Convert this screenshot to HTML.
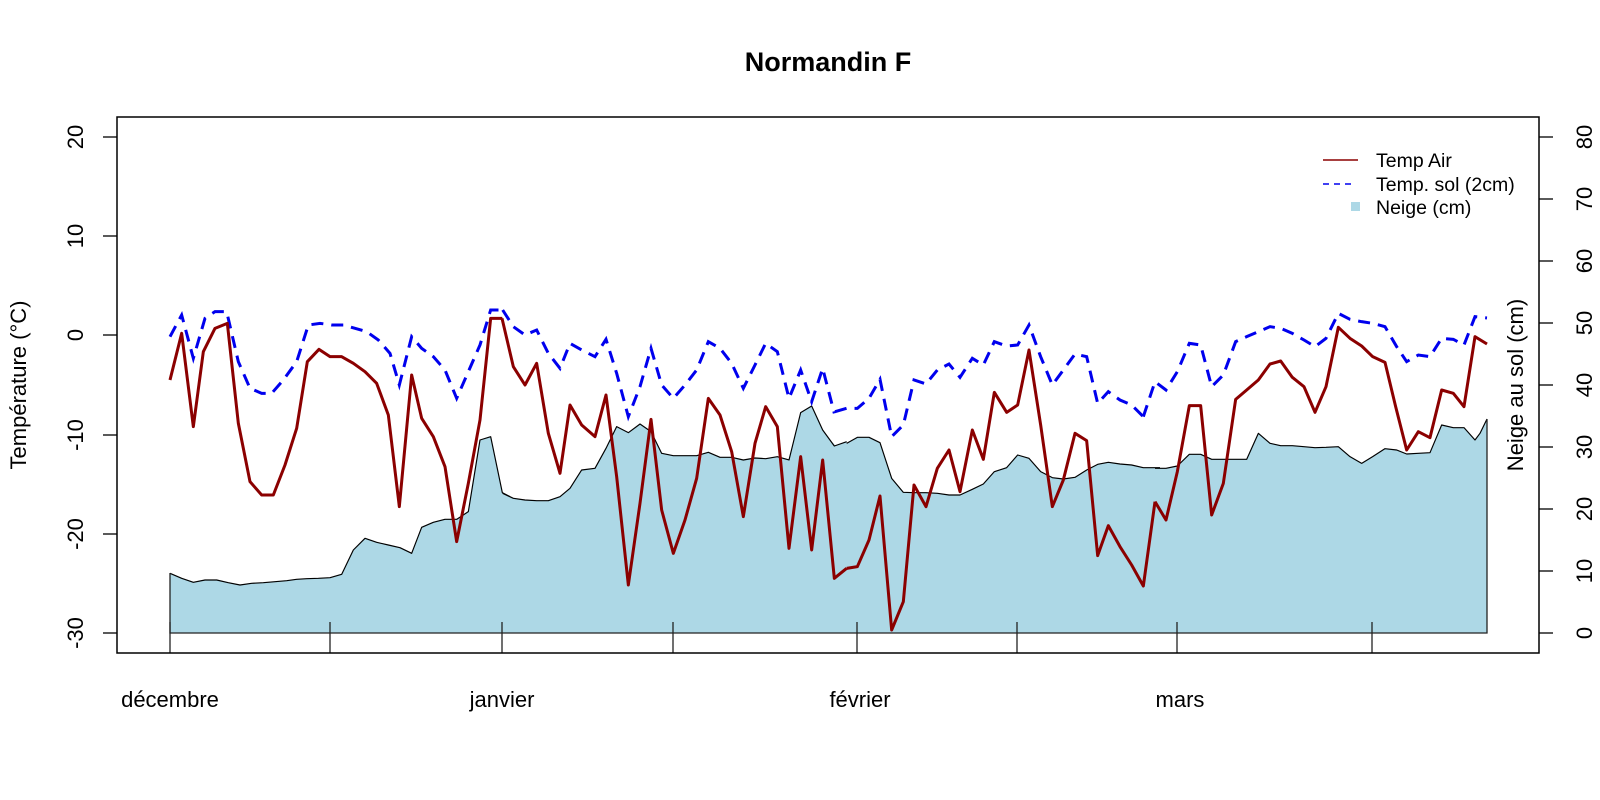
<!DOCTYPE html>
<html><head><meta charset="utf-8"><style>
html,body{margin:0;padding:0;background:#fff;}
svg{display:block;font-family:"Liberation Sans",Arial,sans-serif;}
</style></head><body>
<svg width="1600" height="800" viewBox="0 0 1600 800" xmlns="http://www.w3.org/2000/svg">
<rect width="1600" height="800" fill="#fff"/>
<text x="828" y="71" font-size="27" font-weight="bold" text-anchor="middle">Normandin F</text>

<!-- snow fill -->
<g fill="#ADD8E6" stroke="none">
<g transform="translate(150,290) scale(0.33333)"><polygon points="60,850 95,865 130,877 165,870 200,870 235,878 270,885 305,880 340,878 375,875 410,872 440,868 470,866 505,865 540,863 575,853 610,780 645,745 680,757 715,765 750,773 785,790 815,712 850,697 885,688 920,688 955,665 990,450 1022,440 1057,608 1080,620 1080,1029 60,1029"/></g>
<g transform="translate(490,290) scale(0.33333)"><polygon points="0,440 38,610 70,625 105,630 140,632 175,632 210,620 240,595 275,540 315,535 348,475 380,410 415,428 450,402 483,425 515,490 550,497 585,497 620,497 655,487 690,502 725,502 760,510 795,504 827,506 862,500 897,510 932,368 965,348 998,420 1033,468 1070,455 1070,1029 0,1029"/></g>
<g transform="translate(830,290) scale(0.33333)"><polygon points="0,450 15,465 50,460 82,442 117,442 150,458 185,565 220,607 252,608 288,608 322,610 357,615 390,615 427,598 460,582 493,545 530,533 563,495 597,505 632,545 667,563 700,567 735,562 770,540 803,523 835,517 870,522 905,525 940,533 975,533 990,533 990,1029 0,1029"/></g>
<g transform="translate(1140,290) scale(0.33333)"><polygon points="0,533 10,533 45,535 78,535 112,528 148,493 182,493 215,508 250,508 287,508 320,508 355,430 390,460 422,467 457,467 492,470 525,473 558,472 595,470 630,500 665,520 698,500 735,476 770,480 800,492 835,490 870,488 905,405 940,413 972,413 1005,450 1020,430 1041,387 1041,1029 0,1029"/></g>
</g>
<!-- snow outline -->
<g fill="none" stroke="#000" stroke-width="3.5" stroke-linejoin="round">
<g transform="translate(150,290) scale(0.33333)"><polyline points="60,850 95,865 130,877 165,870 200,870 235,878 270,885 305,880 340,878 375,875 410,872 440,868 470,866 505,865 540,863 575,853 610,780 645,745 680,757 715,765 750,773 785,790 815,712 850,697 885,688 920,688 955,665 990,450 1022,440 1057,608 1080,620"/></g>
<g transform="translate(490,290) scale(0.33333)"><polyline points="38,610 70,625 105,630 140,632 175,632 210,620 240,595 275,540 315,535 348,475 380,410 415,428 450,402 483,425 515,490 550,497 585,497 620,497 655,487 690,502 725,502 760,510 795,504 827,506 862,500 897,510 932,368 965,348 998,420 1033,468 1070,455"/></g>
<g transform="translate(830,290) scale(0.33333)"><polyline points="50,460 82,442 117,442 150,458 185,565 220,607 252,608 288,608 322,610 357,615 390,615 427,598 460,582 493,545 530,533 563,495 597,505 632,545 667,563 700,567 735,562 770,540 803,523 835,517 870,522 905,525 940,533 975,533 990,533"/></g>
<g transform="translate(1140,290) scale(0.33333)"><polyline points="45,535 78,535 112,528 148,493 182,493 215,508 250,508 287,508 320,508 355,430 390,460 422,467 457,467 492,470 525,473 558,472 595,470 630,500 665,520 698,500 735,476 770,480 800,492 835,490 870,488 905,405 940,413 972,413 1005,450 1020,430 1041,387"/></g>
</g>
<polyline points="170,573 170,633 1487,633 1487,419" fill="none" stroke="#222" stroke-width="1.3"/>

<!-- soil temp -->
<g fill="none" stroke="#0000EE" stroke-width="9" stroke-dasharray="36 24">
<g transform="translate(150,290) scale(0.33333)"><polyline points="60,140 95,75 130,205 165,85 195,65 230,65 265,215 300,295 335,310 365,310 400,270 440,215 475,105 510,100 545,105 580,105 615,115 650,125 685,150 720,190 748,285 785,140 815,175 850,200 885,240 920,325 955,245 990,165 1022,60 1057,60"/></g>
<g transform="translate(490,290) scale(0.33333)"><polyline points="38,60 70,110 105,135 140,120 175,190 210,235 240,160 275,180 315,200 348,148 380,250 415,380 450,290 483,175 515,285 550,325 585,285 620,240 655,155 690,175 725,220 760,295 795,225 827,160 862,185 897,325 932,240 965,335 998,235 1033,370"/></g>
<g transform="translate(830,290) scale(0.33333)"><polyline points="15,365 50,355 82,355 117,325 150,268 185,440 220,405 252,270 288,282 322,240 357,222 390,262 427,205 460,225 493,155 530,168 563,165 597,105 632,200 667,285 700,240 735,192 770,200 803,340 835,305 870,330 905,345 940,380"/></g>
<g transform="translate(1140,290) scale(0.33333)"><polyline points="10,380 45,275 78,300 112,245 148,160 182,165 215,290 250,255 287,155 320,140 355,125 390,110 422,115 457,130 492,150 525,170 558,145 595,70 630,88 665,95 698,100 735,110 770,170 800,215 835,195 870,200 905,145 940,148 972,165 1005,80 1041,84"/></g>
</g>

<!-- air temp -->
<g fill="none" stroke="#8B0000" stroke-width="9" stroke-linejoin="round">
<g transform="translate(150,290) scale(0.33333)"><polyline points="60,270 95,130 130,410 160,185 195,115 232,100 265,400 300,575 335,615 370,615 405,525 440,415 472,215 507,178 540,200 575,200 610,220 645,245 680,280 715,375 748,650 785,255 815,385 850,440 885,530 920,755 955,580 990,390 1022,85 1057,85"/></g>
<g transform="translate(490,290) scale(0.33333)"><polyline points="36,85 70,230 105,285 140,220 175,430 210,550 240,345 275,405 315,440 348,315 380,560 415,885 450,640 483,388 515,660 550,790 585,690 620,565 655,325 690,375 725,485 760,680 795,460 827,350 862,410 897,775 932,500 965,780 998,510 1033,865 1070,835"/></g>
<g transform="translate(830,290) scale(0.33333)"><polyline points="50,835 82,830 117,750 150,618 185,1020 220,935 252,585 288,650 322,535 357,480 390,605 427,420 460,508 493,307 530,367 563,345 597,180 632,405 667,650 700,570 735,430 770,452 803,797 835,707 870,770 905,825 940,888 975,635"/></g>
<g transform="translate(1140,290) scale(0.33333)"><polyline points="45,635 78,690 112,545 148,347 182,347 215,675 250,580 287,328 320,300 355,270 390,222 422,213 457,262 492,290 525,367 558,290 595,112 630,145 665,168 698,200 735,217 767,350 800,480 835,425 870,443 905,300 940,310 972,350 1005,140 1041,162"/></g>
</g>

<!-- bottom ticks -->
<g stroke="#222" stroke-width="1.3">
<line x1="170" y1="622" x2="170" y2="653"/><line x1="330" y1="622" x2="330" y2="653"/>
<line x1="502" y1="622" x2="502" y2="653"/><line x1="673" y1="622" x2="673" y2="653"/>
<line x1="857" y1="622" x2="857" y2="653"/><line x1="1017" y1="622" x2="1017" y2="653"/>
<line x1="1177" y1="622" x2="1177" y2="653"/><line x1="1372" y1="622" x2="1372" y2="653"/>
</g>
<!-- box -->
<rect x="117" y="117" width="1422" height="536" fill="none" stroke="#000" stroke-width="1.5"/>

<g font-size="22" text-anchor="middle">
<text x="170" y="707">décembre</text><text x="502" y="707">janvier</text>
<text x="860" y="707">février</text><text x="1180" y="707">mars</text>
</g>

<!-- axes ticks -->
<g stroke="#000" stroke-width="1.3">
<line x1="103" y1="137" x2="117" y2="137"/><line x1="103" y1="236" x2="117" y2="236"/>
<line x1="103" y1="335" x2="117" y2="335"/><line x1="103" y1="435" x2="117" y2="435"/>
<line x1="103" y1="534" x2="117" y2="534"/><line x1="103" y1="633" x2="117" y2="633"/>
<line x1="1539" y1="137" x2="1553" y2="137"/><line x1="1539" y1="199" x2="1553" y2="199"/>
<line x1="1539" y1="261" x2="1553" y2="261"/><line x1="1539" y1="323" x2="1553" y2="323"/>
<line x1="1539" y1="385" x2="1553" y2="385"/><line x1="1539" y1="447" x2="1553" y2="447"/>
<line x1="1539" y1="509" x2="1553" y2="509"/><line x1="1539" y1="571" x2="1553" y2="571"/>
<line x1="1539" y1="633" x2="1553" y2="633"/>
</g>
<g font-size="22" text-anchor="middle">
<text transform="translate(83,137) rotate(-90)">20</text>
<text transform="translate(83,236) rotate(-90)">10</text>
<text transform="translate(83,335) rotate(-90)">0</text>
<text transform="translate(83,435) rotate(-90)">-10</text>
<text transform="translate(83,534) rotate(-90)">-20</text>
<text transform="translate(83,633) rotate(-90)">-30</text>
<text transform="translate(1592,137) rotate(-90)">80</text>
<text transform="translate(1592,199) rotate(-90)">70</text>
<text transform="translate(1592,261) rotate(-90)">60</text>
<text transform="translate(1592,323) rotate(-90)">50</text>
<text transform="translate(1592,385) rotate(-90)">40</text>
<text transform="translate(1592,447) rotate(-90)">30</text>
<text transform="translate(1592,509) rotate(-90)">20</text>
<text transform="translate(1592,571) rotate(-90)">10</text>
<text transform="translate(1592,633) rotate(-90)">0</text>
<text transform="translate(26,385) rotate(-90)">Température (°C)</text>
<text transform="translate(1523,385) rotate(-90)">Neige au sol (cm)</text>
</g>

<!-- legend -->
<line x1="1323" y1="160" x2="1358" y2="160" stroke="#8B0000" stroke-width="1.5"/>
<line x1="1323" y1="184" x2="1356" y2="184" stroke="#0000EE" stroke-width="1.5" stroke-dasharray="6 5"/>
<rect x="1351" y="202" width="9" height="9" fill="#ADD8E6"/>
<g font-size="19.5">
<text x="1376" y="167">Temp Air</text>
<text x="1376" y="191">Temp. sol (2cm)</text>
<text x="1376" y="214">Neige (cm)</text>
</g>
</svg>
</body></html>
